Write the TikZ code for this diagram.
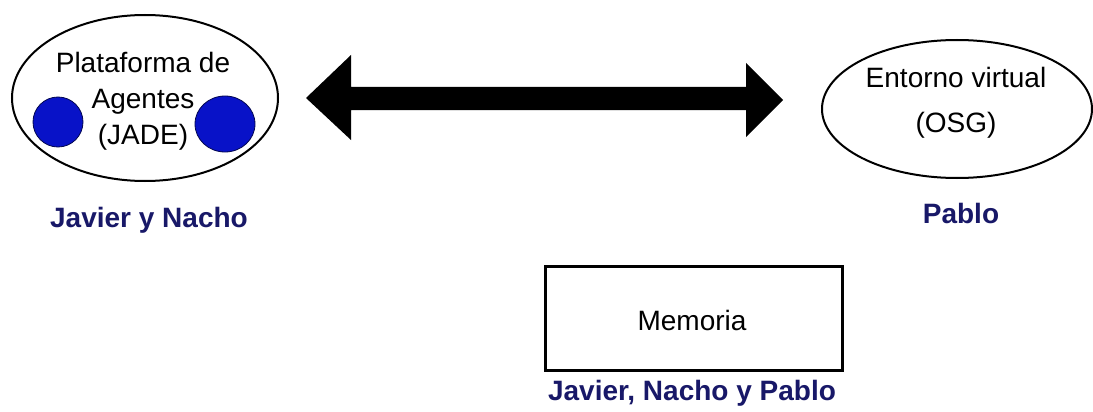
\documentclass[tikz,border=0pt]{standalone}
\usepackage{fontspec}
\setmainfont{Liberation Sans}
\usetikzlibrary{shapes.geometric}
\definecolor{labelnavy}{RGB}{24,24,104}
\definecolor{agentblue}{RGB}{8,18,200}
\tikzset{
  ovalbox/.style={draw=black, line width=2pt, ellipse, inner sep=0pt},
  agent/.style={circle, fill=agentblue, draw=black!60!agentblue, line width=0.8pt, inner sep=0pt},
  txt/.style={align=center, inner sep=0pt, font=\fontsize{28}{36}\selectfont},
  who/.style={inner sep=0pt, text=labelnavy, font=\fontsize{28}{34}\selectfont\bfseries},
  memobox/.style={draw=black, line width=3pt, inner sep=0pt},
  bigarrow/.style={fill=black}
}
\begin{document}
\begin{tikzpicture}[x=1pt,y=-1pt]
\useasboundingbox[fill=white] (0,0) rectangle (1093,412);
% left platform
\node[ovalbox, minimum width=266pt, minimum height=166pt] (plat) at (145,98) {};
\node[agent, minimum size=50pt] (ag1) at (58,122) {};
\node[agent, minimum width=60pt, minimum height=56pt, ellipse] (ag2) at (225,124) {};
\node[txt] (plattxt) at (143,101) {Plataforma de\\Agentes\\(JADE)};
\node[who] (jn) at (149,220) {Javier y Nacho};
% right environment
\node[ovalbox, minimum width=270pt, minimum height=138pt] (env) at (957,109) {};
\node[txt, font=\fontsize{28}{45}\selectfont] (envtxt) at (956,102.5) {Entorno virtual\\(OSG)};
\node[who] (pb) at (961,213) {Pablo};
% memory
\node[memobox, minimum width=297pt, minimum height=104pt] (mem) at (693.5,318) {};
\node[txt] (memtxt) at (692,320) {Memoria};
\node[who] (jnp) at (692,393) {Javier, Nacho y Pablo};
% double arrow
\coordinate (lt) at (306,98);
\coordinate (rt) at (783,100);
\fill[bigarrow] (lt) -- (351,55) -- (351,87) -- (746,87) -- (746,63) -- (rt)
  -- (746,137) -- (746,110) -- (351,110) -- (351,140) -- cycle;
\end{tikzpicture}
\end{document}
